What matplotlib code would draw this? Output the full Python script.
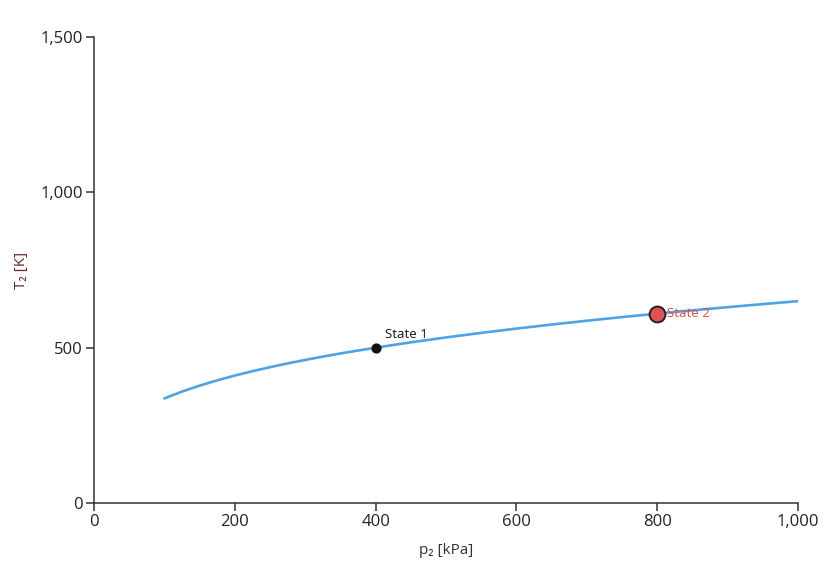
import matplotlib.pyplot as plt
from matplotlib.ticker import FuncFormatter

# values
p2_kpa = [100, 110, 125, 150, 175, 200, 225, 250, 275, 300, 325, 350, 400,
          450, 500, 550, 600, 650, 700, 750, 800, 850, 900, 950, 1000]
t2_k = [336.5, 345.7, 358.6, 377.8, 394.8, 410.2, 424.2, 437.2, 449.3, 460.5,
        471.2, 481.3, 500.0, 517.1, 532.9, 547.6, 561.4, 574.4, 586.7, 598.4,
        609.5, 620.1, 630.4, 640.2, 649.6]
state_names = ["State 1", "State 2"]
state_p = [400, 800]
state_t = [500, 609.5]

plt.rcParams['font.family'] = ['Open Sans', 'DejaVu Sans']

fig = plt.figure(figsize=(8.32, 5.70), dpi=100)
ax = fig.add_axes([94 / 832, 67 / 570, 704 / 832, 466 / 570])

ax.plot(p2_kpa, t2_k, color='#4fa3e3', lw=1.9, solid_capstyle='round',
        solid_joinstyle='round', zorder=2)

ax.scatter(state_p[0], state_t[0], s=40, color='#111111', zorder=3)
ax.scatter(state_p[1], state_t[1], s=130, color='#e25252', edgecolor='#222222',
           linewidths=1.4, zorder=3)
ax.annotate(state_names[0], (state_p[0], state_t[0]), xytext=(7, 5),
            textcoords='offset points', fontsize=9.5, color='#111111',
            ha='left', va='bottom')
ax.annotate(state_names[1], (state_p[1], state_t[1]), xytext=(7, 0),
            textcoords='offset points', fontsize=9.5, color='#e24a40',
            ha='left', va='center')

ax.set_xlim(0, 1000)
ax.set_ylim(0, 1500)
ax.set_xticks([0, 200, 400, 600, 800, 1000])
ax.set_yticks([0, 500, 1000, 1500])
fmt = FuncFormatter(lambda v, _: f"{v:,.0f}")
ax.xaxis.set_major_formatter(fmt)
ax.yaxis.set_major_formatter(fmt)

for s in ['top', 'right']:
    ax.spines[s].set_visible(False)
for s in ['left', 'bottom']:
    ax.spines[s].set_color('#333333')
    ax.spines[s].set_linewidth(1.1)
ax.tick_params(direction='out', length=6, width=1.1, color='#333333',
               labelsize=12, labelcolor='#222222', pad=2)

ax.set_xlabel("p₂ [kPa]", fontsize=11, color='#333333')
ax.set_ylabel("T₂ [K]", fontsize=11, color='#6b2a2a')
ax.xaxis.set_label_coords(0.5, -40 / 466, transform=ax.transAxes)
ax.yaxis.set_label_coords(-65 / 704, 0.5, transform=ax.transAxes)

fig.savefig("out.png", dpi=100)
